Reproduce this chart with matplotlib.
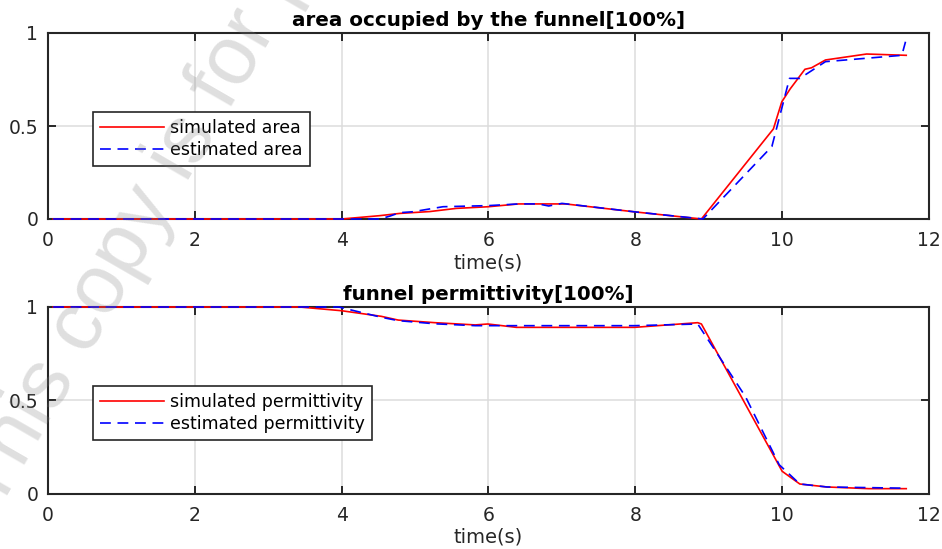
import matplotlib
matplotlib.use("Agg")
import matplotlib.pyplot as plt

# ---- data ----
t_area_sim = [0.07, 4.0, 4.52, 4.79, 5.2, 5.56, 6.0, 6.41, 7.05, 8.0, 8.9,
              9.88, 9.995, 10.11, 10.31, 10.40, 10.59, 11.15, 11.69]
area_sim = [0, 0, 0.018, 0.03, 0.04, 0.057, 0.066, 0.081, 0.081, 0.038, 0,
            0.484, 0.63, 0.70, 0.805, 0.813, 0.855, 0.887, 0.88]

t_area_est = [0.07, 4.52, 4.66, 4.79, 4.97, 5.38, 6.0, 6.41, 6.68, 6.82, 7.0,
              8.0, 8.92, 9.86, 10.10, 10.24, 10.59, 11.63, 11.68]
area_est = [0, 0, 0.016, 0.034, 0.039, 0.066, 0.072, 0.081, 0.081, 0.07, 0.084,
            0.038, 0, 0.39, 0.756, 0.756, 0.846, 0.88, 0.953]

t_perm_sim = [0.07, 3.43, 4.0, 4.54, 4.77, 5.27, 5.82, 5.99, 6.38, 6.77, 7.99,
              8.85, 8.9, 10.0, 10.24, 10.61, 11.18, 11.69]
perm_sim = [1, 1.0, 0.98, 0.95, 0.93, 0.916, 0.904, 0.909, 0.891, 0.891, 0.891,
            0.916, 0.909, 0.12, 0.052, 0.036, 0.027, 0.027]

t_perm_est = [0.07, 3.96, 4.54, 4.77, 5.27, 5.82, 6.7, 7.99, 8.85, 9.5, 9.96,
              10.24, 10.61, 11.59, 11.69]
perm_est = [1, 1, 0.945, 0.927, 0.91, 0.9, 0.9, 0.9, 0.909, 0.52, 0.155,
            0.052, 0.036, 0.03, 0.03]

x_ticks = [0, 2, 4, 6, 8, 10, 12]
y_ticks = [0, 0.5, 1]
y_tick_labels = ["0", "0.5", "1"]

titles = ["area occupied by the funnel[100%]", "funnel permittivity[100%]"]
xlabel = "time(s)"
legends = [["simulated area", "estimated area"],
           ["simulated permittivity", "estimated permittivity"]]
watermark = "This copy is for personal use only"

plt.rcParams['font.family'] = ['DejaVu Sans']

fig = plt.figure(figsize=(9.42, 5.49), dpi=100)
W, H = 942, 549
ax1 = fig.add_axes([48 / W, 1 - 219 / H, 881 / W, 186 / H])
ax2 = fig.add_axes([48 / W, 1 - 493.7 / H, 881 / W, 186.7 / H])

frame_c = '#262626'
series = [(ax1, t_area_sim, area_sim, t_area_est, area_est),
          (ax2, t_perm_sim, perm_sim, t_perm_est, perm_est)]

for i, (ax, ts, ys, te, ye) in enumerate(series):
    ax.plot(ts, ys, color='#ff0000', lw=1.2, label=legends[i][0],
            zorder=3, clip_on=False)
    ax.plot(te, ye, color='#0000ff', lw=1.2, dashes=(6.5, 4), label=legends[i][1],
            zorder=3.1, clip_on=False)
    ax.set_xlim(0, 12)
    ax.set_ylim(0, 1)
    ax.set_xticks(x_ticks)
    ax.set_xticklabels([str(v) for v in x_ticks])
    ax.set_yticks(y_ticks)
    ax.set_yticklabels(y_tick_labels)
    ax.grid(True, color='#dcdcdc', lw=1.1)
    ax.set_axisbelow(True)
    ax.tick_params(direction='in', length=6, width=1.4, color=frame_c,
                   top=True, right=True, labelsize=13.5, pad=7, labelcolor='#262626')
    ax.tick_params(axis='x', pad=9)
    for s in ax.spines.values():
        s.set_linewidth(1.5)
        s.set_color(frame_c)
    ax.set_title(titles[i], fontsize=14.3, fontweight='bold', pad=5)
    ax.set_xlabel(xlabel, fontsize=14, labelpad=2, color='#262626')
    leg = ax.legend(loc='upper left', bbox_to_anchor=(0.051, 0.575), fontsize=12.5,
                    handlelength=3.7, handletextpad=0.35, borderpad=0.4,
                    labelspacing=0.22, fancybox=False, framealpha=1,
                    borderaxespad=0)
    leg.get_frame().set_edgecolor(frame_c)
    leg.get_frame().set_linewidth(1.2)

fig.text(-3 / W, 1 - 514 / H, watermark, rotation=60, rotation_mode='anchor',
         ha='left', va='baseline', fontsize=60, family='Liberation Sans',
         color='gray', alpha=0.25, zorder=10)

fig.savefig('out.png', dpi=100)
